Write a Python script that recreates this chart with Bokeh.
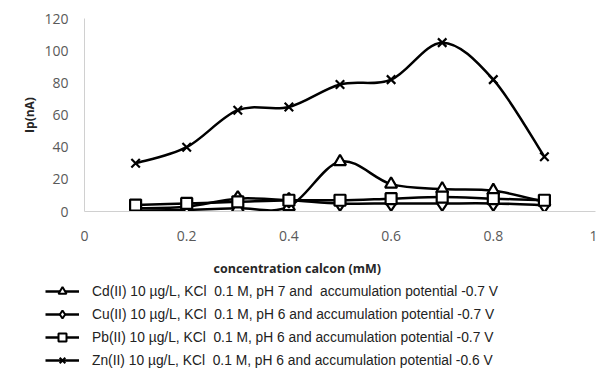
import numpy as np
from bokeh.plotting import figure
from bokeh.layouts import column, row
from bokeh.models import Range1d, Legend, LegendItem, Title, ColumnDataSource, FixedTicker
from bokeh.embed import file_html
from bokeh.resources import INLINE

conc = [0.1, 0.2, 0.3, 0.4, 0.5, 0.6, 0.7, 0.8, 0.9]
cd = [0.5, 1, 2, 3, 31, 17, 14, 13, 6]
cu = [2, 3, 8, 7, 5, 5, 5, 5, 4]
pb = [4, 5, 6, 7, 7, 8, 9, 8, 7]
zn = [30, 40, 63, 65, 79, 82, 105, 82, 34]
x_ticks = [0, 0.2, 0.4, 0.6, 0.8, 1]
y_ticks = [0, 20, 40, 60, 80, 100, 120]
labels = [
    "Cd(II) 10 \u00b5g/L, KCl  0.1 M, pH 7 and  accumulation potential -0.7 V",
    "Cu(II) 10 \u00b5g/L, KCl  0.1 M, pH 6 and accumulation potential -0.7 V",
    "Pb(II) 10 \u00b5g/L, KCl  0.1 M, pH 6 and accumulation potential -0.7 V",
    "Zn(II) 10 \u00b5g/L, KCl  0.1 M, pH 6 and accumulation potential -0.6 V",
]
x_title = "concentration calcon (mM)"
y_title = "Ip(nA)"


def smooth_source(x, y):
    x = np.asarray(x, float)
    y = np.asarray(y, float)
    n = len(x)
    px = np.concatenate([[x[0]], x, [x[-1]]])
    py = np.concatenate([[y[0]], y, [y[-1]]])
    cx0 = px[1:n] + (px[2:n + 1] - px[0:n - 1]) / 6
    cy0 = py[1:n] + (py[2:n + 1] - py[0:n - 1]) / 6
    cx1 = px[2:n + 1] - (px[3:n + 2] - px[1:n]) / 6
    cy1 = py[2:n + 1] - (py[3:n + 2] - py[1:n]) / 6
    return ColumnDataSource(dict(x0=x[:-1], y0=y[:-1], x1=x[1:], y1=y[1:],
                                 cx0=cx0, cy0=cy0, cx1=cx1, cy1=cy1))


p = figure(width=597, height=252, output_backend="svg", toolbar_location=None,
           x_range=Range1d(0, 1), y_range=Range1d(0, 120),
           min_border_left=84, min_border_right=2, min_border_top=18,
           min_border_bottom=41)
p.outline_line_color = None
p.grid.visible = False
p.background_fill_color = "white"

p.xaxis.ticker = FixedTicker(ticks=x_ticks)
p.yaxis.ticker = FixedTicker(ticks=y_ticks)
p.xaxis.major_label_overrides = {0: "0", 1: "1"}
for ax in (p.xaxis, p.yaxis):
    ax.axis_line_color = "#d0d0d0"
    ax.axis_line_width = 1
    ax.major_tick_line_color = None
    ax.minor_tick_line_color = None
    ax.major_tick_out = 0
    ax.major_tick_in = 0
    ax.minor_tick_out = 0
    ax.major_label_text_font = "Open Sans"
    ax.major_label_text_font_size = "14px"
    ax.major_label_text_color = "#595959"
p.xaxis.major_label_standoff = 19
p.yaxis.major_label_standoff = 16
p.yaxis.axis_label = y_title
p.yaxis.axis_label_text_font = "Open Sans"
p.yaxis.axis_label_text_font_style = "bold"
p.yaxis.axis_label_text_font_size = "12px"
p.yaxis.axis_label_text_color = "#262626"
p.yaxis.axis_label_standoff = 3

series = [
    (cd, "triangle", 12),
    (cu, "diamond", 15),
    (pb, "square", 11),
    (zn, "x", 12),
]

# legend-only figure below the chart (also carries the x-axis title)
p2 = figure(width=597, height=118, output_backend="svg", toolbar_location=None,
            x_range=Range1d(10, 11), y_range=Range1d(10, 11),
            x_axis_location=None, y_axis_location=None,
            min_border_left=0, min_border_right=0, min_border_top=0,
            min_border_bottom=0)
p2.grid.visible = False
p2.outline_line_color = None
t = Title(text=x_title, align="left", offset=213, text_font="Open Sans",
          text_font_style="bold", text_font_size="12.5px", text_color="#262626")
p2.add_layout(t, "above")

items = []
for (vals, marker, size), lab in zip(series, labels):
    src = smooth_source(conc, vals)
    p.bezier(x0="x0", y0="y0", x1="x1", y1="y1", cx0="cx0", cy0="cy0",
             cx1="cx1", cy1="cy1", source=src, line_color="black", line_width=2.5)
    p.scatter(conc, vals, marker=marker, size=size, fill_color="white",
              line_color="black", line_width=2.2)
    ln2 = p2.line(conc, vals, line_color="black", line_width=2.5)
    sc2 = p2.scatter(conc, vals, marker=marker, size=size, fill_color="white",
                     line_color="black", line_width=2.0)
    items.append(LegendItem(label=lab, renderers=[ln2, sc2]))

legend = Legend(items=items, location=(45, 0), glyph_width=34, glyph_height=20,
                label_height=20, spacing=3, padding=0, margin=0,
                border_line_color=None, background_fill_alpha=0,
                label_text_font="Liberation Sans", label_text_font_size="13.8px",
                label_text_color="#222222", label_standoff=13)
p2.add_layout(legend, "center")

open("out.html", "w").write(file_html(column(p, row(p2)), INLINE))
